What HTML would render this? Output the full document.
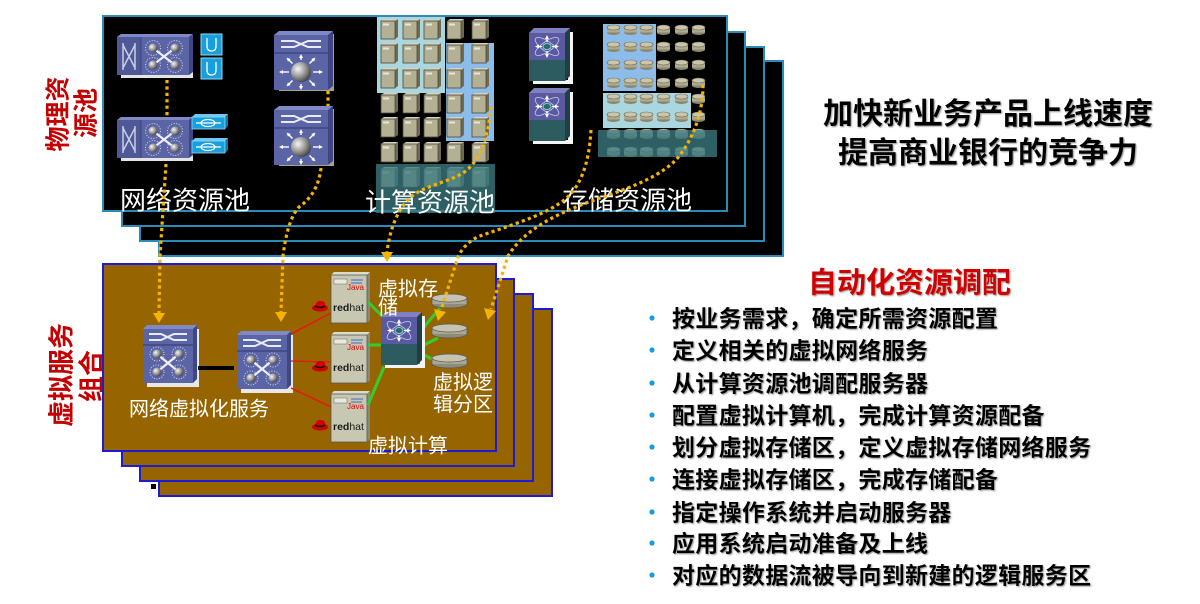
<!DOCTYPE html>
<html><head><meta charset="utf-8"><style>
html,body{margin:0;padding:0;background:#fff;}
svg{display:block;}
text{font-family:"Liberation Sans","Noto Sans CJK SC",sans-serif;}
</style></head><body>
<svg width="1200" height="604" viewBox="0 0 1200 604" xmlns="http://www.w3.org/2000/svg">
<defs>
<radialGradient id="sph" cx="0.35" cy="0.35" r="0.75"><stop offset="0" stop-color="#f6f6f6"/><stop offset="0.5" stop-color="#9a9a9a"/><stop offset="1" stop-color="#333"/></radialGradient>
<marker id="wa" markerWidth="4" markerHeight="4" refX="2" refY="2" orient="auto" markerUnits="userSpaceOnUse"><path d="M0,0L4,2L0,4Z" fill="#fff"/></marker>
<filter id="sh" x="-5%" y="-20%" width="110%" height="140%"><feDropShadow dx="1" dy="1" stdDeviation="0.7" flood-color="#777" flood-opacity="0.8"/></filter>
<g id="sw1">
 <rect x="4" y="6" width="72" height="38" fill="#e4e4e4"/>
 <rect x="0" y="3" width="72" height="38" fill="#5b65a5"/>
 <polygon points="0,3 4,0 76,0 72,3" fill="#7f89c6"/>
 <polygon points="72,3 76,0 76,38 72,41" fill="#3e4784"/>
 <rect x="0" y="3" width="24" height="38" fill="#4f5996"/>
 <line x1="24" y1="3" x2="24" y2="41" stroke="#3a4280"/>
 <path d="M6,9V36M18,9V36M6,11L18,34M18,11L6,34" stroke="#c9cdea" stroke-width="1.5" fill="none"/>
 <path d="M36,14L58,31M58,14L36,31" stroke="#eef" stroke-width="2.2"/>
 <g stroke="#d8dcf0" stroke-width="1" stroke-dasharray="1 1.6" fill="none">
  <circle cx="36" cy="14" r="7.5"/><circle cx="58" cy="14" r="7.5"/><circle cx="36" cy="31" r="7.5"/><circle cx="58" cy="31" r="7.5"/>
 </g>
 <circle cx="36" cy="14" r="4.5" fill="url(#sph)"/><circle cx="58" cy="14" r="4.5" fill="url(#sph)"/>
 <circle cx="36" cy="31" r="4.5" fill="url(#sph)"/><circle cx="58" cy="31" r="4.5" fill="url(#sph)"/>
</g>
<g id="rt">
 <rect x="5" y="3" width="55" height="57" fill="#a8a286"/>
 <rect x="0" y="4" width="54" height="55" fill="#5b65a5"/>
 <polygon points="0,4 5,0 59,0 54,4" fill="#7f89c6"/>
 <polygon points="54,4 59,0 59,55 54,59" fill="#3e4784"/>
 <line x1="0" y1="22" x2="54" y2="22" stroke="#3e4784" stroke-width="1.5"/>
 <path d="M7,10H20L34,16H47M7,16H20L34,10H47" stroke="#e8eaf6" stroke-width="2" fill="none"/>
 <g stroke="#fff" stroke-width="1.4" marker-end="url(#wa)">
  <line x1="39" y1="41" x2="47" y2="41"/><line x1="15" y1="41" x2="7" y2="41"/>
  <line x1="27" y1="29" x2="27" y2="25"/><line x1="27" y1="53" x2="27" y2="57"/>
  <line x1="35.5" y1="32.5" x2="40" y2="28"/><line x1="18.5" y1="32.5" x2="14" y2="28"/>
  <line x1="35.5" y1="49.5" x2="40" y2="54"/><line x1="18.5" y1="49.5" x2="14" y2="54"/>
 </g>
 <circle cx="27" cy="41" r="10" fill="url(#sph)"/>
</g>
<g id="sw2">
 <rect x="4" y="4" width="52" height="58" fill="#e8e8e8"/>
 <rect x="0" y="4" width="50" height="54" fill="#5b65a5"/>
 <polygon points="0,4 4,0 54,0 50,4" fill="#7f89c6"/>
 <polygon points="50,4 54,0 54,54 50,58" fill="#3e4784"/>
 <line x1="0" y1="20" x2="50" y2="20" stroke="#3e4784" stroke-width="1.5"/>
 <path d="M6,9H18L31,15H44M6,15H18L31,9H44" stroke="#e8eaf6" stroke-width="2" fill="none"/>
 <path d="M14,29L36,47M36,29L14,47" stroke="#eef" stroke-width="2.2"/>
 <g stroke="#d8dcf0" stroke-width="1" stroke-dasharray="1 1.6" fill="none">
  <circle cx="14" cy="29" r="7"/><circle cx="36" cy="29" r="7"/><circle cx="14" cy="47" r="7"/><circle cx="36" cy="47" r="7"/>
 </g>
 <circle cx="14" cy="29" r="4.5" fill="url(#sph)"/><circle cx="36" cy="29" r="4.5" fill="url(#sph)"/>
 <circle cx="14" cy="47" r="4.5" fill="url(#sph)"/><circle cx="36" cy="47" r="4.5" fill="url(#sph)"/>
</g>
<g id="nx">
 <path d="M39,4H44V56H4V52H39Z" fill="#f4f4f4"/>
 <polygon points="0,5 5,0 41,0 36,5" fill="#8080c0"/>
 <polygon points="36,5 41,0 41,48 36,53" fill="#1f3f44"/>
 <rect x="0" y="5" width="36" height="27" fill="#5a5aa2"/>
 <rect x="0" y="32" width="36" height="21" fill="#2d5c60"/>
 <g stroke="#c8cdf0" stroke-width="0.8" fill="none">
  <ellipse cx="18" cy="18.5" rx="14" ry="5" transform="rotate(35 18 18.5)"/>
  <ellipse cx="18" cy="18.5" rx="14" ry="5" transform="rotate(-35 18 18.5)"/>
 </g>
 <g stroke="#fff" stroke-width="1.3" marker-end="url(#wa)">
  <line x1="18" y1="14" x2="18" y2="9"/><line x1="18" y1="23" x2="18" y2="28"/>
  <line x1="13" y1="18.5" x2="8" y2="18.5"/><line x1="23" y1="18.5" x2="28" y2="18.5"/>
 </g>
 <ellipse cx="18" cy="18.5" rx="4" ry="3" fill="#2a6a6a" stroke="#9dd" stroke-width="0.8"/>
</g>
<g id="bx">
 <polygon points="0,2 3,0 17,0 14,2" fill="#d8d4bc"/>
 <polygon points="14,2 17,0 17,18 14,20" fill="#6e6a54"/>
 <rect x="0" y="2" width="14" height="18" fill="#b4b094" stroke="#4a4838" stroke-width="0.8"/>
 <rect x="2" y="4.5" width="6" height="2" fill="#e8e6d8"/>
</g>
<g id="dk">
 <rect x="0" y="2.5" width="13" height="5" fill="#a8a48a"/>
 <ellipse cx="6.5" cy="7.5" rx="6.5" ry="2.5" fill="#8a866c"/>
 <rect x="0" y="2.5" width="13" height="5" fill="#aeaa90"/>
 <ellipse cx="6.5" cy="2.5" rx="6.5" ry="2.5" fill="#cac6ac" stroke="#6a6650" stroke-width="0.6"/>
</g>
<g id="bd">
 <ellipse cx="17.5" cy="10" rx="17.5" ry="4" fill="#8e8c76" stroke="#555" stroke-width="0.7"/>
 <rect x="0" y="4" width="35" height="6" fill="#aaa892"/>
 <line x1="0" y1="4" x2="0" y2="10" stroke="#555" stroke-width="0.7"/><line x1="35" y1="4" x2="35" y2="10" stroke="#555" stroke-width="0.7"/>
 <ellipse cx="17.5" cy="4" rx="17.5" ry="4" fill="#c6c4b0" stroke="#555" stroke-width="0.7"/>
</g>
<g id="ui">
 <rect x="0" y="0" width="21" height="21" fill="#19a0dc" stroke="#8fd8f6" stroke-width="1"/>
 <path d="M6,4V12Q6,17 10.5,17Q15,17 15,12V4" stroke="#fff" stroke-width="1.3" fill="none"/>
</g>
<g id="hi">
 <polygon points="0,3 3,0 36,0 33,3" fill="#6cc8ee"/>
 <polygon points="33,3 36,0 36,12 33,15" fill="#0d78a8"/>
 <rect x="0" y="3" width="33" height="12" fill="#19a0dc" stroke="#8fd8f6" stroke-width="0.8"/>
 <ellipse cx="16" cy="9" rx="7" ry="3.5" stroke="#fff" fill="none" stroke-width="1.2"/>
 <line x1="4" y1="9" x2="29" y2="9" stroke="#fff" stroke-width="1.2"/>
</g>
<g id="hsb">
 <polygon points="0,3 3,0 39,0 36,3" fill="#dcdcc8"/>
 <polygon points="36,3 39,0 39,48 36,51" fill="#8a8a74"/>
 <rect x="0" y="3" width="36" height="48" fill="#c8c8b2" stroke="#555" stroke-width="0.8"/>
 <rect x="3" y="7" width="13" height="5" fill="#eaeadc" stroke="#777" stroke-width="0.6"/>
 <path d="M20,8H32M20,11H31" stroke="#3a6ad0" stroke-width="1"/>
</g>
<g id="rh">
 <ellipse cx="8" cy="8" rx="8" ry="3.5" fill="#c00"/>
 <path d="M3,7Q4,0 9,1Q14,1 13,7Z" fill="#d40000"/>
 <path d="M3,6Q8,9 13,6" stroke="#111" stroke-width="1.6" fill="none"/>
</g>
</defs>

<!-- left labels -->
<g fill="#c40000" font-weight="700">
 <text transform="translate(57,114) rotate(-90)" x="0" y="9.3" font-size="25" text-anchor="middle">物理资</text>
 <text transform="translate(85,113) rotate(-90)" x="0" y="9.3" font-size="25" text-anchor="middle">源池</text>
 <text transform="translate(61,375) rotate(-90)" x="0" y="9.6" font-size="26" text-anchor="middle">虚拟服务</text>
 <text transform="translate(91,376) rotate(-90)" x="0" y="9.6" font-size="26" text-anchor="middle">组合</text>
</g>

<!-- black panels -->
<g fill="#000" stroke="#2a8ab8" stroke-width="2">
 <rect x="159" y="61" width="624" height="195"/>
 <rect x="140" y="47" width="624" height="194"/>
 <rect x="122" y="32" width="623" height="194"/>
 <rect x="103" y="16" width="624" height="195"/>
</g>

<!-- brown panels -->
<rect x="151" y="484" width="5" height="5" fill="#000"/>
<g fill="#976500" stroke="#1c1cd8" stroke-width="2">
 <rect x="159" y="309" width="393" height="187"/>
 <rect x="140" y="294" width="393" height="187"/>
 <rect x="122" y="279" width="392" height="187"/>
 <rect x="103" y="264" width="393" height="187"/>
</g>

<!-- network pool -->
<use href="#sw1" x="117" y="34"/>
<use href="#sw1" x="117" y="117"/>
<use href="#ui" x="201" y="34"/>
<use href="#ui" x="201" y="58"/>
<use href="#hi" x="192" y="114"/>
<use href="#hi" x="192" y="138"/>
<use href="#rt" x="274" y="31"/>
<use href="#rt" x="274" y="106"/>

<!-- compute pool -->
<rect x="377" y="17" width="68" height="76" fill="#a9d6df"/>
<rect x="446" y="43" width="48" height="98" fill="#8cbcea"/>
<g>
 <use href="#bx" x="381" y="19"/><use href="#bx" x="403" y="19"/><use href="#bx" x="424" y="19"/><use href="#bx" x="447" y="19"/><use href="#bx" x="472" y="19"/>
 <use href="#bx" x="381" y="43"/><use href="#bx" x="403" y="43"/><use href="#bx" x="424" y="43"/><use href="#bx" x="447" y="43"/><use href="#bx" x="472" y="43"/>
 <use href="#bx" x="381" y="68"/><use href="#bx" x="403" y="68"/><use href="#bx" x="424" y="68"/><use href="#bx" x="447" y="68"/><use href="#bx" x="472" y="68"/>
 <use href="#bx" x="381" y="93"/><use href="#bx" x="403" y="93"/><use href="#bx" x="424" y="93"/><use href="#bx" x="447" y="93"/><use href="#bx" x="472" y="93"/>
 <use href="#bx" x="381" y="117"/><use href="#bx" x="403" y="117"/><use href="#bx" x="424" y="117"/><use href="#bx" x="447" y="117"/><use href="#bx" x="472" y="117"/>
 <use href="#bx" x="381" y="142"/><use href="#bx" x="403" y="142"/><use href="#bx" x="424" y="142"/><use href="#bx" x="447" y="142"/><use href="#bx" x="472" y="142"/>
 <use href="#bx" x="381" y="167"/><use href="#bx" x="403" y="167"/><use href="#bx" x="424" y="167"/><use href="#bx" x="447" y="167"/><use href="#bx" x="472" y="167"/>
</g>
<rect x="376" y="164" width="119" height="49" fill="#3a7a80" opacity="0.78"/>

<!-- storage pool -->
<use href="#nx" x="529" y="28"/>
<use href="#nx" x="529" y="88"/>
<rect x="603" y="24" width="53" height="67" fill="#8cbcea"/>
<rect x="603" y="93" width="88" height="35" fill="#a9d6df"/>
<g>
 <use href="#dk" x="607" y="25"/><use href="#dk" x="624" y="25"/><use href="#dk" x="640" y="25"/><use href="#dk" x="657" y="25"/><use href="#dk" x="675" y="25"/><use href="#dk" x="692" y="25"/>
 <use href="#dk" x="607" y="42"/><use href="#dk" x="624" y="42"/><use href="#dk" x="640" y="42"/><use href="#dk" x="657" y="42"/><use href="#dk" x="675" y="42"/><use href="#dk" x="692" y="42"/>
 <use href="#dk" x="607" y="60"/><use href="#dk" x="624" y="60"/><use href="#dk" x="640" y="60"/><use href="#dk" x="657" y="60"/><use href="#dk" x="675" y="60"/><use href="#dk" x="692" y="60"/>
 <use href="#dk" x="607" y="78"/><use href="#dk" x="624" y="78"/><use href="#dk" x="640" y="78"/><use href="#dk" x="657" y="78"/><use href="#dk" x="675" y="78"/><use href="#dk" x="692" y="78"/>
 <use href="#dk" x="607" y="94"/><use href="#dk" x="624" y="94"/><use href="#dk" x="640" y="94"/><use href="#dk" x="657" y="94"/><use href="#dk" x="675" y="94"/><use href="#dk" x="692" y="94"/>
 <use href="#dk" x="607" y="112"/><use href="#dk" x="624" y="112"/><use href="#dk" x="640" y="112"/><use href="#dk" x="657" y="112"/><use href="#dk" x="675" y="112"/><use href="#dk" x="692" y="112"/>
 <use href="#dk" x="607" y="129"/><use href="#dk" x="624" y="129"/><use href="#dk" x="640" y="129"/><use href="#dk" x="657" y="129"/><use href="#dk" x="675" y="129"/><use href="#dk" x="692" y="129"/>
 <use href="#dk" x="607" y="147"/><use href="#dk" x="624" y="147"/><use href="#dk" x="640" y="147"/><use href="#dk" x="657" y="147"/><use href="#dk" x="675" y="147"/><use href="#dk" x="692" y="147"/>
</g>
<rect x="598" y="130" width="119" height="27" fill="#3a7a80" opacity="0.78"/>

<!-- pool labels -->
<g fill="#fff" font-size="26">
 <text x="120" y="209.6">网络资源池</text>
 <text x="365" y="211.6">计算资源池</text>
 <text x="562" y="209.6">存储资源池</text>
</g>

<!-- brown panel content -->
<use href="#sw2" x="143" y="325"/>
<line x1="198" y1="368" x2="234" y2="368" stroke="#000" stroke-width="4"/>
<use href="#sw2" x="237" y="331"/>
<g stroke="#ee1111" stroke-width="1.3">
 <line x1="291" y1="334" x2="331" y2="313"/>
 <line x1="291" y1="361" x2="331" y2="362"/>
 <line x1="291" y1="388" x2="331" y2="407"/>
</g>
<use href="#rh" x="312" y="300"/>
<use href="#rh" x="312" y="360"/>
<use href="#rh" x="312" y="419"/>
<g>
 <use href="#hsb" x="331" y="272"/>
 <text x="333" y="311" font-size="10.5" fill="#1a1a1a"><tspan font-weight="700">red</tspan>hat</text>
 <text x="347" y="290" font-size="8" fill="#d00">Java</text>
 <use href="#hsb" x="331" y="332"/>
 <text x="333" y="371" font-size="10.5" fill="#1a1a1a"><tspan font-weight="700">red</tspan>hat</text>
 <text x="347" y="350" font-size="8" fill="#d00">Java</text>
 <use href="#hsb" x="331" y="391"/>
 <text x="333" y="430" font-size="10.5" fill="#1a1a1a"><tspan font-weight="700">red</tspan>hat</text>
 <text x="347" y="409" font-size="8" fill="#d00">Java</text>
</g>
<g stroke="#33cc33" stroke-width="3">
 <line x1="368" y1="302" x2="383" y2="317"/>
 <line x1="368" y1="345" x2="383" y2="345"/>
 <line x1="368" y1="405" x2="384" y2="367"/>
 <line x1="424" y1="327" x2="440" y2="308"/>
 <line x1="424" y1="345" x2="438" y2="338"/>
 <line x1="424" y1="355" x2="434" y2="360"/>
</g>
<use href="#nx" x="381" y="312"/>
<use href="#bd" x="432" y="294"/>
<use href="#bd" x="432" y="324"/>
<use href="#bd" x="432" y="354"/>
<g fill="#fff" font-size="20">
 <text x="129" y="415.4">网络虚拟化服务</text>
 <text x="378" y="295.6">虚拟存</text>
 <text x="378" y="313.8">储</text>
 <text x="433" y="389">虚拟逻</text>
 <text x="433" y="410.8">辑分区</text>
 <text x="368" y="452.4">虚拟计算</text>
</g>

<!-- dotted connectors -->
<g fill="none" stroke="#f6b400" stroke-width="3.2" stroke-dasharray="3.2 3.2">
 <path d="M167,80L167,117"/>
 <path d="M328,91L328,106"/>
 <path d="M166,164L160,256L159,313"/>
 <path d="M321,168C319,185 312,198 299,207C289,218 285,240 283,256L281,312"/>
 <path d="M491,107C488,135 482,160 463,173C448,182 425,186 412,196C398,208 390,228 387,252"/>
 <path d="M591,130C589,165 580,190 560,203C540,217 505,227 480,236C470,240 462,248 458,257L441,310"/>
 <path d="M703,85C703,110 695,135 680,155C665,175 630,188 600,198C560,212 525,228 508,256L491,309"/>
</g>
<g fill="#f6b400">
 <polygon points="153,313 165,313 159,323"/>
 <polygon points="275,312 287,312 281,322"/>
 <polygon points="381,252 393,252 387,262"/>
 <polygon points="434,309 446,312 438,321"/>
 <polygon points="484,308 496,311 488,320"/>
</g>

<!-- right side text -->
<g font-weight="700" fill="#000" filter="url(#sh)">
 <text x="988" y="124" font-size="30" text-anchor="middle">加快新业务产品上线速度</text>
 <text x="988" y="163" font-size="30" text-anchor="middle">提高商业银行的竞争力</text>
</g>
<text x="808" y="292.7" font-size="29" font-weight="700" fill="#d00000" filter="url(#sh)">自动化资源调配</text>
<g fill="#1a9ad8">
 <circle cx="652" cy="318" r="2.6"/><circle cx="652" cy="350" r="2.6"/><circle cx="652" cy="383" r="2.6"/>
 <circle cx="652" cy="415" r="2.6"/><circle cx="652" cy="447" r="2.6"/><circle cx="652" cy="479" r="2.6"/>
 <circle cx="652" cy="512" r="2.6"/><circle cx="652" cy="543" r="2.6"/><circle cx="652" cy="575" r="2.6"/>
</g>
<g font-size="23" font-weight="700" fill="#000" letter-spacing="0.3" filter="url(#sh)">
 <text x="672" y="326.5">按业务需求，确定所需资源配置</text>
 <text x="672" y="358.5">定义相关的虚拟网络服务</text>
 <text x="672" y="391.5">从计算资源池调配服务器</text>
 <text x="672" y="423.5">配置虚拟计算机，完成计算资源配备</text>
 <text x="672" y="455.5">划分虚拟存储区，定义虚拟存储网络服务</text>
 <text x="672" y="487.5">连接虚拟存储区，完成存储配备</text>
 <text x="672" y="520.5">指定操作系统并启动服务器</text>
 <text x="672" y="551.5">应用系统启动准备及上线</text>
 <text x="672" y="583.5">对应的数据流被导向到新建的逻辑服务区</text>
</g>
</svg>
</body></html>
